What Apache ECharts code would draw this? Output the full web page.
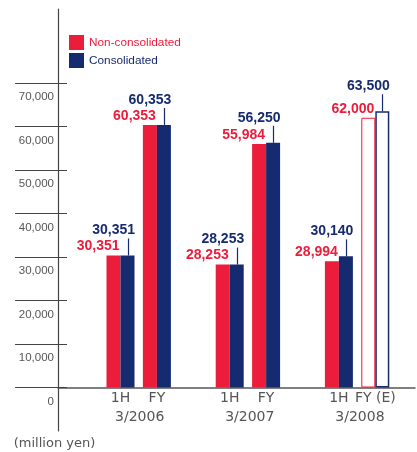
<!DOCTYPE html>
<html>
<head>
<meta charset="utf-8">
<script src="https://cdn.jsdelivr.net/npm/echarts@6/dist/echarts.min.js"></script>
<style>
  html, body { margin: 0; padding: 0; background: #fff; }
  #chart { width: 417px; height: 452px; }
</style>
</head>
<body>
<div id="chart"></div>
<script>
// Net sales by half / full fiscal year (million yen)
const fiscalYears = ['3/2006', '3/2007', '3/2008'];
const periods = ['1H', 'FY', '', '1H', 'FY', '', '1H', 'FY (E)'];
const nonConsolidated = [30351, 60353, null, 28253, 55984, null, 28994, 62000];
const consolidated = [30351, 60353, null, 28253, 56250, null, 30140, 63500];
const estimated = [false, false, false, false, false, false, false, true];
const yTicks = [0, 10000, 20000, 30000, 40000, 50000, 60000, 70000];
const seriesNames = ['Non-consolidated', 'Consolidated'];
const unitLabel = '(million yen)';

// styling
const RED = '#ec1c3b';
const BLUE = '#162a70';
const INK = '#555';
const RULE = '#444';
const Y_MIN = -10000;
const Y_MAX = 87000;
const BAR_W = 14;
const LEADER = 17;
const SANS = '"Liberation Sans", Arial, sans-serif';
const WIDE = '"DejaVu Sans", sans-serif';

const fmt = v => v.toLocaleString('en-US');

function barData(values, color, borderWidth) {
  return values.map((v, i) => {
    if (v == null) return '-';
    if (!estimated[i]) return v;
    return { value: v, itemStyle: { color: '#fff', borderColor: color, borderWidth: borderWidth } };
  });
}

function valueLabel(color, distance, shift) {
  return {
    show: true,
    position: 'top',
    distance: distance,
    align: 'right',
    offset: [shift, 0],
    color: color,
    fontFamily: SANS,
    fontWeight: 'bold',
    fontSize: 14,
    formatter: p => (typeof p.value === 'number' ? fmt(p.value) : '')
  };
}

const leaderData = consolidated
  .map((v, i) => (v == null ? null : [i, v]))
  .filter(d => d !== null);

const chart = echarts.init(document.getElementById('chart'), null, { renderer: 'canvas' });

chart.setOption({
  animation: false,
  backgroundColor: '#fff',
  legend: {
    left: 69,
    top: 35,
    padding: 0,
    orient: 'vertical',
    icon: 'rect',
    itemWidth: 15,
    itemHeight: 15,
    itemGap: 3,
    selectedMode: false,
    textStyle: { fontFamily: SANS, fontSize: 11.8 },
    data: [
      { name: seriesNames[0], textStyle: { color: RED } },
      { name: seriesNames[1], textStyle: { color: BLUE } }
    ]
  },
  grid: [
    { left: 58, right: 2, top: 9, bottom: 21 },
    { left: 102.3, right: 23.5, top: 9, bottom: 64.5 },
    { left: 84.6, right: 2, top: 9, bottom: 64.5 }
  ],
  xAxis: [
    {
      gridIndex: 0, type: 'value', min: 0, max: 1,
      axisLine: { show: true, onZero: true, lineStyle: { color: INK, width: 1.5 } },
      axisTick: { show: false }, axisLabel: { show: false }, splitLine: { show: false }
    },
    {
      gridIndex: 1, type: 'category', data: periods,
      axisLine: { show: false }, axisTick: { show: false }, splitLine: { show: false },
      axisLabel: { interval: 0, margin: 4, color: INK, fontFamily: WIDE, fontSize: 14 }
    },
    {
      gridIndex: 2, type: 'category', data: fiscalYears,
      axisLine: { show: false }, axisTick: { show: false }, splitLine: { show: false },
      axisLabel: { interval: 0, margin: 23, color: INK, fontFamily: WIDE, fontSize: 14 }
    }
  ],
  yAxis: [
    {
      gridIndex: 0, type: 'value', position: 'left', min: Y_MIN, max: Y_MAX, interval: 10000,
      axisLine: { show: true, onZero: false, lineStyle: { color: RULE, width: 1.2 } },
      axisTick: { show: false }, axisLabel: { show: false }, splitLine: { show: false },
      name: unitLabel, nameLocation: 'start', nameGap: 6,
      nameTextStyle: { color: INK, fontFamily: WIDE, fontSize: 13, padding: [0, 7, 0, 0], verticalAlign: 'top' }
    },
    {
      gridIndex: 0, type: 'value', position: 'left', min: Y_MIN, max: Y_MAX, interval: 10000, offset: -9,
      axisLine: { show: false, onZero: false },
      axisTick: { show: true, length: 52, customValues: yTicks, lineStyle: { color: RULE, width: 1 } },
      axisLabel: {
        customValues: yTicks, margin: 13, color: INK, fontFamily: SANS, fontSize: 11.5,
        verticalAlign: 'top', padding: [8, 0, 0, 0], formatter: v => fmt(v)
      },
      splitLine: { show: false }
    },
    {
      gridIndex: 1, type: 'value', min: 0, max: Y_MAX, show: false
    },
    {
      gridIndex: 2, type: 'value', min: 0, max: Y_MAX, show: false
    }
  ],
  series: [
    {
      name: seriesNames[0], type: 'bar', xAxisIndex: 1, yAxisIndex: 2,
      barWidth: BAR_W, barGap: 0,
      itemStyle: { color: RED },
      label: valueLabel(RED, 2, 6),
      data: barData(nonConsolidated, RED, 1)
    },
    {
      name: seriesNames[1], type: 'bar', xAxisIndex: 1, yAxisIndex: 2,
      barWidth: BAR_W, barGap: 0,
      itemStyle: { color: BLUE },
      label: valueLabel(BLUE, 18, 7.5),
      data: barData(consolidated, BLUE, 1.5)
    },
    {
      // leader lines from the consolidated bars up to their value labels
      type: 'custom', xAxisIndex: 1, yAxisIndex: 2, silent: true, z: 3,
      encode: { x: 0, y: 1 },
      data: leaderData,
      renderItem: (params, api) => {
        const p = api.coord([api.value(0), api.value(1)]);
        const x = Math.round(p[0] + BAR_W / 2) + 0.5;
        return {
          type: 'line',
          shape: { x1: x, y1: p[1], x2: x, y2: p[1] - LEADER },
          style: { stroke: BLUE, lineWidth: 1.2 }
        };
      }
    }
  ]
});
</script>
</body>
</html>
